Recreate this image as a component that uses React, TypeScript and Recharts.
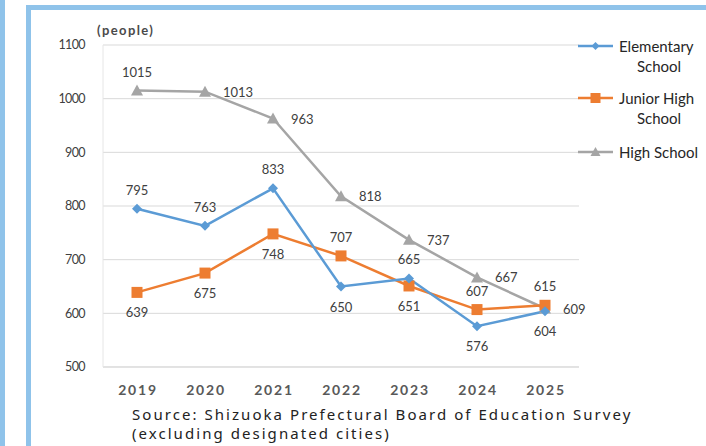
import React from 'react';
import { LineChart, Line, XAxis, YAxis, CartesianGrid } from 'recharts';

const years = ['2019', '2020', '2021', '2022', '2023', '2024', '2025'];
const elementary = [795, 763, 833, 650, 665, 576, 604];
const juniorHigh = [639, 675, 748, 707, 651, 607, 615];
const highSchool = [1015, 1013, 963, 818, 737, 667, 609];
const yTicks = [500, 600, 700, 800, 900, 1000, 1100];

// where each value label sits relative to its point
const elemPos = ['top', 'top', 'top', 'bottom', 'top', 'bottom', 'bottom'];
const juniorPos = ['bottom', 'bottom', 'bottom', 'top', 'bottom', 'top', 'top'];
const highPos = ['top', 'right', 'right', 'right', 'right', 'right', 'right'];

const data = years.map((year, i) => ({
  year,
  elementary: elementary[i],
  juniorHigh: juniorHigh[i],
  highSchool: highSchool[i],
}));

const BLUE = '#5b9bd5';
const ORANGE = '#ed7d31';
const GREY = '#a5a5a5';
const FRAME = '#8fc3ea';
const FONT = 'Lato, "Open Sans", sans-serif';

const Diamond = (props: any) => {
  const { cx, cy } = props;
  if (cx == null || cy == null) return null;
  return <path d={`M${cx},${cy - 5} L${cx + 5},${cy} L${cx},${cy + 5} L${cx - 5},${cy} Z`} fill={BLUE} />;
};

const Square = (props: any) => {
  const { cx, cy } = props;
  if (cx == null || cy == null) return null;
  return <rect x={cx - 5.5} y={cy - 5.5} width={11} height={11} fill={ORANGE} />;
};

const Triangle = (props: any) => {
  const { cx, cy } = props;
  if (cx == null || cy == null) return null;
  return <path d={`M${cx},${cy - 6} L${cx + 6},${cy + 5} L${cx - 6},${cy + 5} Z`} fill={GREY} />;
};

const makeLabel = (positions: string[]) => (props: any) => {
  const { x, y, value, index } = props;
  const pos = positions[index];
  let tx = x;
  let ty = y;
  let anchor: 'middle' | 'start' = 'middle';
  if (pos === 'top') ty = y - 19;
  if (pos === 'bottom') ty = y + 20;
  if (pos === 'right') {
    tx = x + 18;
    anchor = 'start';
  }
  return (
    <text x={tx} y={ty} textAnchor={anchor} dominantBaseline="central" fill="#404040" fontSize={13} fontFamily={FONT}>
      {value}
    </text>
  );
};

const YearTick = (props: any) => {
  const { x, y, payload } = props;
  return (
    <text x={x + 1} y={y + 14} textAnchor="middle" dominantBaseline="central" fill="#595959" fontSize={14} fontWeight={700} letterSpacing={1.8} fontFamily={FONT}>
      {payload.value}
    </text>
  );
};

const legendItems = [
  { lines: ['Elementary', 'School'], color: BLUE, marker: 'diamond', y: 46 },
  { lines: ['Junior High', 'School'], color: ORANGE, marker: 'square', y: 98 },
  { lines: ['High School'], color: GREY, marker: 'triangle', y: 152 },
];

const LegendBox = () => (
  <svg width={130} height={170} style={{ position: 'absolute', left: 576, top: 0 }}>
    {legendItems.map((item) => (
      <g key={item.lines[0]}>
        <line x1={2} x2={37} y1={item.y} y2={item.y} stroke={item.color} strokeWidth={2.5} />
        {item.marker === 'diamond' && <path d={`M19.5,${item.y - 4} L23.5,${item.y} L19.5,${item.y + 4} L15.5,${item.y} Z`} fill={item.color} />}
        {item.marker === 'square' && <rect x={14.5} y={item.y - 5} width={10} height={10} fill={item.color} />}
        {item.marker === 'triangle' && <path d={`M19.5,${item.y - 5} L24.5,${item.y + 4} L14.5,${item.y + 4} Z`} fill={item.color} />}
        <text x={43} y={item.y} dominantBaseline="central" fill="#262626" fontSize={15} fontFamily={FONT}>
          {item.lines[0]}
        </text>
        {item.lines[1] && (
          <text x={83} y={item.y + 20} textAnchor="middle" dominantBaseline="central" fill="#262626" fontSize={15} fontFamily={FONT}>
            {item.lines[1]}
          </text>
        )}
      </g>
    ))}
  </svg>
);

const sourceStyle: React.CSSProperties = {
  position: 'absolute',
  left: 132,
  fontSize: 15,
  lineHeight: '16px',
  letterSpacing: 2.05,
  color: '#222',
  fontFamily: '"Noto Sans", sans-serif',
  whiteSpace: 'nowrap',
};

export default function App() {
  return (
    <div style={{ position: 'absolute', left: 0, top: 0, width: 706, height: 446, overflow: 'hidden', background: '#fff' }}>
      <div style={{ position: 'absolute', left: 0, top: 0, width: 5, height: 446, background: FRAME }} />
      <div style={{ position: 'absolute', left: 26, top: 5, width: 720, height: 500, border: `5px solid ${FRAME}`, boxSizing: 'border-box' }} />
      <div style={{ position: 'absolute', left: 0, top: 0 }}>
        <LineChart width={706} height={446} data={data} margin={{ top: 45, right: 127, bottom: 49, left: 43 }}>
          <CartesianGrid vertical={false} stroke="#d9d9d9" />
          <XAxis
            dataKey="year"
            axisLine={{ stroke: '#d9d9d9' }}
            tickLine={false}
            height={30}
            padding={{ left: 34, right: 34 }}
            tick={<YearTick />}
            interval={0}
          />
          <YAxis
            domain={[500, 1100]}
            ticks={yTicks}
            width={60}
            axisLine={{ stroke: '#e6e6e6' }}
            tickLine={false}
            dx={-10}
            tick={{ fill: '#404040', fontSize: 12.5, fontFamily: FONT, letterSpacing: -0.6 }}
          />
          <Line dataKey="highSchool" stroke={GREY} strokeWidth={2.5} dot={<Triangle />} activeDot={false} label={makeLabel(highPos)} isAnimationActive={false} />
          <Line dataKey="juniorHigh" stroke={ORANGE} strokeWidth={2.5} dot={<Square />} activeDot={false} label={makeLabel(juniorPos)} isAnimationActive={false} />
          <Line dataKey="elementary" stroke={BLUE} strokeWidth={2.5} dot={<Diamond />} activeDot={false} label={makeLabel(elemPos)} isAnimationActive={false} />
        </LineChart>
      </div>
      <div style={{ position: 'absolute', left: 97, top: 22, fontSize: 13, fontWeight: 700, letterSpacing: 1.4, color: '#4a4a4a', fontFamily: FONT }}>(people)</div>
      <LegendBox />
      <div style={{ ...sourceStyle, top: 406 }}>Source: Shizuoka Prefectural Board of Education Survey</div>
      <div style={{ ...sourceStyle, top: 425 }}>(excluding designated cities)</div>
    </div>
  );
}
